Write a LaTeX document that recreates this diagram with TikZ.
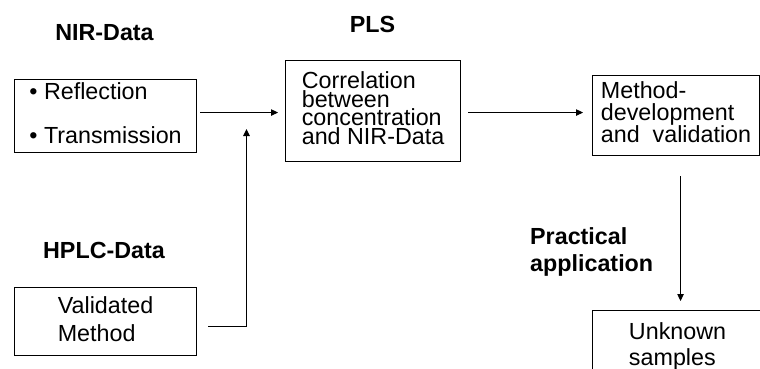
\documentclass[tikz,border=0pt]{standalone}
\usepackage{fontspec}
\setmainfont{Liberation Sans}
\usepackage{tikz}
\usetikzlibrary{arrows.meta,calc}
\newcommand\boxfont[1]{\fontsize{23.3}{#1}\selectfont}
\tikzset{
	box/.style 2 args={draw,rectangle,line width=1.1pt,anchor=north west,align=left,inner sep=0pt,minimum width=#1,minimum height=#2,execute at end node={\rule[-6pt]{0pt}{0pt}}},
	title/.style={font=\boxfont{28}\bfseries,inner sep=0pt},
	arr/.style={line width=1.1pt,-{Triangle[length=7pt,width=6.5pt]}}
}
\begin{document}
\begin{tikzpicture}[x=1pt,y=-1pt]
	\useasboundingbox (0,0) rectangle (760,368);
	\clip (0,0) rectangle (760,368);

	\node [title] (nirtitle) at (104.5,32.5) {NIR-Data};
	\node [title] (plstitle) at (372.5,24) {PLS};
	\node [title] (hplctitle) at (104,250.5) {HPLC-Data};
	\node [title,anchor=base west,align=left,font=\boxfont{27}\bfseries] (apptitle) at (530,271) {Practical\\application};

	\node [box={182pt}{73pt},font=\boxfont{44}] (nir) at (14,79) {• Reflection\\• Transmission};
	\node [box={175pt}{101pt},font=\boxfont{18.5}] (pls) at (285,60) {Correlation\\between\\concentration\\and NIR-Data};
	\node [box={167pt}{80pt},font=\boxfont{22}] (dev) at (592,75) {Method-\\development\\and\ \ validation};
	\node [box={182pt}{68pt},font=\boxfont{28}] (hplc) at (14,287) {Validated\\Method};
	\node [box={170pt}{72pt},font=\boxfont{26}] (unk) at (592,310) {Unknown\\samples};

	\coordinate (join) at (246.5,129);
	\draw [arr] ($(nir.east)+(3,-3.5)$) -- ($(nir.east -| pls.west)+(-7,-3.5)$);
	\draw [arr] ($(hplc.east)+(11,5)$) -| (join);
	\draw [arr] ($(pls.east)+(7,1.5)$) -- ($(pls.east -| dev.west)+(-9,1.5)$);
	\draw [arr] ($(dev.south)+(4.5,20)$) -- ($(dev.south |- unk.north)+(4.5,-9)$);
\end{tikzpicture}
\end{document}
